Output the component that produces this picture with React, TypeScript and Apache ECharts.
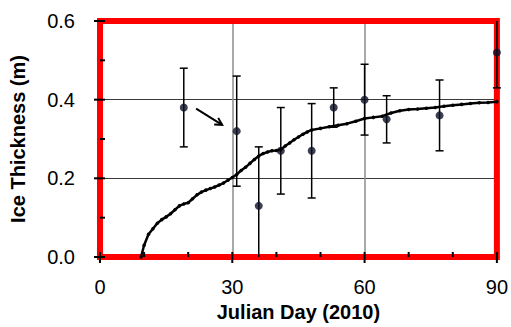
import React, { useEffect, useRef } from "react";
import * as echarts from "echarts";

const xTicks = [0, 30, 60, 90];
const yTicks = [0, 0.2, 0.4, 0.6];
const xMinorTicks = [10, 20, 40, 50, 70, 80];
const yMinorTicks = [0.1, 0.3, 0.5];

// Observed thickness: day, mean, error (+/-)
const obsDay = [19, 31, 36, 41, 48, 53, 60, 65, 77, 90];
const obsMean = [0.38, 0.32, 0.13, 0.27, 0.27, 0.38, 0.4, 0.35, 0.36, 0.52];
const obsErr = [0.1, 0.14, 0.15, 0.11, 0.12, 0.05, 0.09, 0.06, 0.09, 0.09];

// Modelled thickness curve
const modelDay = [
  9.3, 10, 11, 12, 13, 14, 15, 16, 17, 18, 19, 20, 21, 22, 23, 24, 25, 26, 27, 28, 29, 30,
  31, 32, 33, 34, 35, 36, 37, 38, 39, 40, 41, 42, 43, 44, 45, 46, 47, 48, 50, 52, 54, 56,
  58, 60, 62, 64, 66, 68, 70, 72, 74, 76, 78, 80, 82, 84, 86, 88, 90,
];
const modelThk = [
  0.0, 0.03, 0.058, 0.072, 0.086, 0.095, 0.102, 0.11, 0.12, 0.13, 0.135, 0.138, 0.148,
  0.158, 0.165, 0.17, 0.174, 0.178, 0.183, 0.188, 0.195, 0.202, 0.21, 0.22, 0.228, 0.238,
  0.248, 0.257, 0.263, 0.267, 0.27, 0.271, 0.273, 0.282, 0.29, 0.298, 0.305, 0.312, 0.318,
  0.323, 0.327, 0.331, 0.335, 0.339, 0.345, 0.352, 0.355, 0.358, 0.366, 0.372, 0.375,
  0.376, 0.378, 0.38, 0.383, 0.386, 0.388, 0.39, 0.392, 0.393, 0.395,
];

// Annotation arrow (data coordinates): start -> end
const arrowFrom = [21.8, 0.377];
const arrowTo = [27.7, 0.336];

const FONT = "'Liberation Sans', Arial, Helvetica, sans-serif";

export default function App() {
  const ref = useRef<HTMLDivElement>(null);
  useEffect(() => {
    if (!ref.current) return;
    const chart = echarts.init(ref.current, undefined, { renderer: "svg" });
    const xMin = xTicks[0];
    const xMax = xTicks[xTicks.length - 1];
    const yMin = yTicks[0];
    const yMax = yTicks[yTicks.length - 1];
    const tickData = [
      ...xTicks.map((v) => [0, v]),
      ...xMinorTicks.map((v) => [1, v]),
      ...yTicks.map((v) => [2, v]),
      ...yMinorTicks.map((v) => [3, v]),
    ];
    chart.setOption({
      animation: false,
      grid: { left: 97, right: 14, top: 21, bottom: 70 },
      xAxis: {
        type: "value",
        min: xMin,
        max: xMax,
        interval: 30,
        name: "Julian Day (2010)",
        nameLocation: "middle",
        nameGap: 45,
        nameTextStyle: { fontFamily: FONT, fontSize: 20, fontWeight: "bold", color: "#000" },
        axisLine: { show: true, onZero: false, lineStyle: { color: "#000", width: 3 } },
        axisTick: { show: false },
        axisLabel: { margin: 20, fontFamily: FONT, fontSize: 20, color: "#000" },
        splitLine: { show: true, lineStyle: { color: "#8c8c8c", width: 1.5 } },
      },
      yAxis: {
        type: "value",
        min: yMin,
        max: yMax,
        interval: 0.2,
        name: "Ice Thickness (m)",
        nameLocation: "middle",
        nameGap: 72,
        nameTextStyle: { fontFamily: FONT, fontSize: 20, fontWeight: "bold", color: "#000" },
        axisLine: { show: true, onZero: false, lineStyle: { color: "#000", width: 3 } },
        axisTick: { show: false },
        axisLabel: {
          margin: 25,
          fontFamily: FONT,
          fontSize: 20,
          color: "#000",
          formatter: (v: number) => v.toFixed(1),
        },
        splitLine: { show: true, lineStyle: { color: "#3a3a3a", width: 1.2 } },
      },
      series: [
        {
          type: "custom",
          clip: false,
          data: [[xMin, yMin, xMax, yMax]],
          renderItem: (params: any, api: any) => {
            const p0 = api.coord([api.value(0), api.value(3)]);
            const p1 = api.coord([api.value(2), api.value(1)]);
            return {
              type: "rect",
              shape: { x: p0[0], y: p0[1], width: p1[0] - p0[0], height: p1[1] - p0[1] },
              style: { stroke: "#ff0000", lineWidth: 6, fill: "none" },
            };
          },
        },
        {
          type: "custom",
          clip: false,
          data: tickData,
          renderItem: (params: any, api: any) => {
            const kind = api.value(0);
            const v = api.value(1);
            const st = { stroke: "#000", lineWidth: 2, fill: "none" };
            if (kind <= 1) {
              const p = api.coord([v, yMin]);
              const outLen = kind === 0 ? 6 : 0;
              return { type: "line", shape: { x1: p[0], y1: p[1] - 5, x2: p[0], y2: p[1] + outLen }, style: st };
            }
            const p = api.coord([xMin, v]);
            const outLen = kind === 2 ? 6 : 0;
            return { type: "line", shape: { x1: p[0] + 5, y1: p[1], x2: p[0] - outLen, y2: p[1] }, style: st };
          },
        },
        {
          type: "line",
          data: modelDay.map((d, i) => [d, modelThk[i]]),
          lineStyle: { color: "#000", width: 2.5 },
          symbol: "circle",
          symbolSize: 3.5,
          itemStyle: { color: "#000" },
        },
        {
          type: "custom",
          clip: false,
          data: obsDay.map((d, i) => [d, obsMean[i] - obsErr[i], obsMean[i] + obsErr[i]]),
          renderItem: (params: any, api: any) => {
            const x = api.value(0);
            const loV = api.value(1);
            const hiV = api.value(2);
            const lo = api.coord([x, Math.max(loV, yMin)]);
            const hi = api.coord([x, Math.min(hiV, yMax)]);
            const cap = 4;
            const st = { stroke: "#000", lineWidth: 1.5, fill: "none" };
            const children: any[] = [
              { type: "line", shape: { x1: lo[0], y1: lo[1], x2: hi[0], y2: hi[1] }, style: st },
            ];
            if (loV >= yMin)
              children.push({ type: "line", shape: { x1: lo[0] - cap, y1: lo[1], x2: lo[0] + cap, y2: lo[1] }, style: st });
            if (hiV <= yMax)
              children.push({ type: "line", shape: { x1: hi[0] - cap, y1: hi[1], x2: hi[0] + cap, y2: hi[1] }, style: st });
            return { type: "group", children };
          },
        },
        {
          type: "scatter",
          data: obsDay.map((d, i) => [d, obsMean[i]]),
          symbol: "circle",
          symbolSize: 8,
          itemStyle: { color: "#0b1026" },
          clip: false,
        },
        {
          type: "custom",
          clip: false,
          data: [[arrowFrom[0], arrowFrom[1], arrowTo[0], arrowTo[1]]],
          renderItem: (params: any, api: any) => {
            const a = api.coord([api.value(0), api.value(1)]);
            const b = api.coord([api.value(2), api.value(3)]);
            const ang = Math.atan2(b[1] - a[1], b[0] - a[0]);
            const h = 8;
            const spread = 0.5;
            const p1 = [b[0] - h * Math.cos(ang - spread), b[1] - h * Math.sin(ang - spread)];
            const p2 = [b[0] - h * Math.cos(ang + spread), b[1] - h * Math.sin(ang + spread)];
            const st = { stroke: "#000", lineWidth: 2, fill: "none" };
            return {
              type: "group",
              children: [
                { type: "line", shape: { x1: a[0], y1: a[1], x2: b[0], y2: b[1] }, style: st },
                { type: "polyline", shape: { points: [p1, b, p2] }, style: st },
              ],
            };
          },
        },
      ],
    });
    return () => chart.dispose();
  }, []);
  return <div ref={ref} style={{ width: 511, height: 327, position: "absolute", left: 0, top: 0 }} />;
}
